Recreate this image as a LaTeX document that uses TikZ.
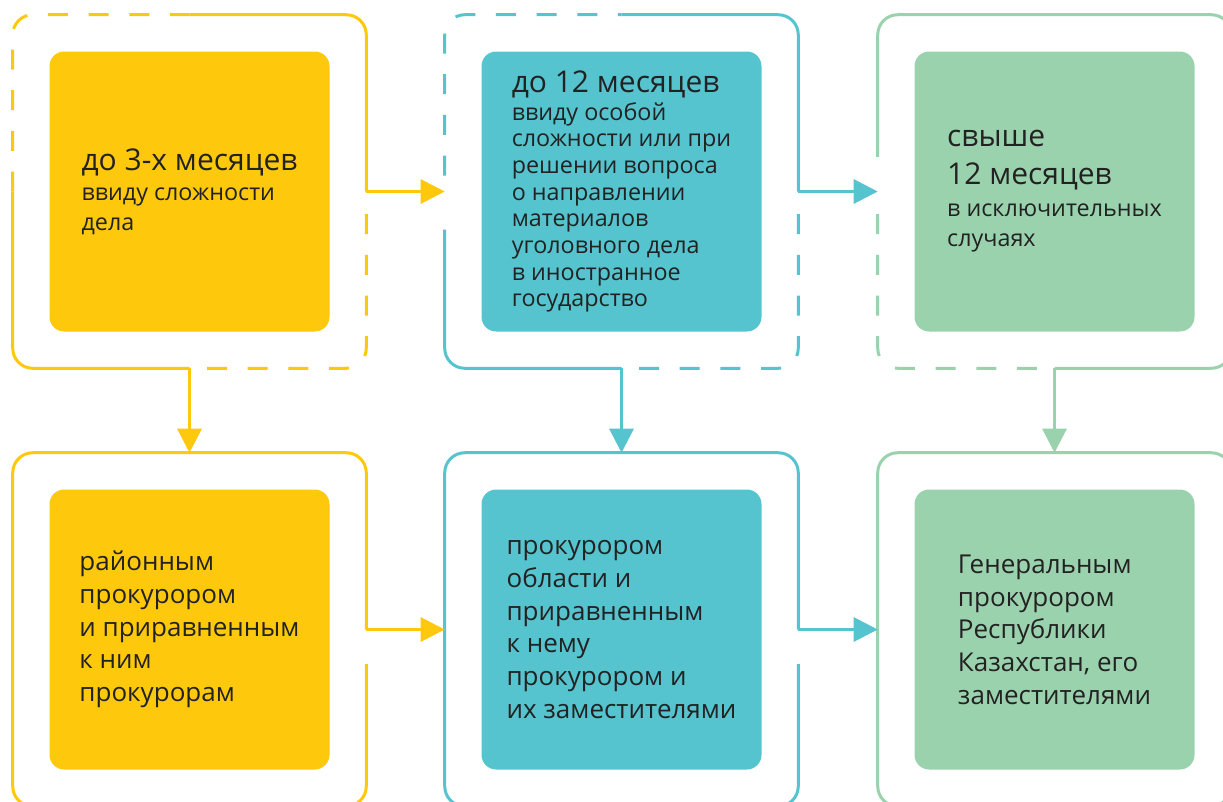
\documentclass[tikz,border=0pt]{standalone}
\usepackage{fontspec}
\setmainfont{Open Sans}
\usetikzlibrary{arrows.meta}
\definecolor{gelb}{HTML}{FEC90C}
\definecolor{blau}{HTML}{55C4CF}
\definecolor{gruen}{HTML}{9AD2AE}
\definecolor{schrift}{HTML}{222222}
\newcommand{\kopf}[1]{{\fontsize{22.5}{24}\selectfont #1}}
\tikzset{
  outerbox/.style={minimum width=264.75pt,minimum height=264.75pt,inner sep=0pt},
  innerbox/.style={fill=#1,rounded corners=11pt,minimum width=210pt,minimum height=210pt,
    align=left,text=schrift,inner sep=0pt,font=\fontsize{17.5}{20}\selectfont},
  lowbox/.style={innerbox=#1,font=\fontsize{19.5}{24.5}\selectfont},
  rim/.style={draw=#1,line width=2.25pt,rounded corners=15pt},
  rimdash/.style={rim=#1,dash pattern=on 15pt off 15.5pt},
  conn/.style={draw=#1,line width=2.25pt,-{Triangle[length=18pt,width=18pt]}}
}
\begin{document}
\begin{tikzpicture}[x=0.75pt,y=-0.75pt]
\useasboundingbox (0,0) rectangle (1223,801);
% outer frames
\node[outerbox] (fr1) at (189.5,191.5) {};
\node[outerbox] (fr2) at (621.5,191.5) {};
\node[outerbox] (fr3) at (1054.5,191.5) {};
\node[outerbox] (fr4) at (189.5,629.5) {};
\node[outerbox] (fr5) at (621.5,629.5) {};
\node[outerbox] (fr6) at (1054.5,629.5) {};

% top row, half solid half dashed
\draw[rim=gelb] (fr1.north) -| (fr1.east);
\draw[rim=gelb] (fr1.west) |- (fr1.south);
\draw[rimdash=gelb] (fr1.west) |- (fr1.north);
\draw[rimdash=gelb] ([yshift=-17pt]fr1.east) |- (fr1.south);

\draw[rim=blau] (fr2.north) -| (fr2.east);
\draw[rim=blau] ([yshift=-28.5pt]fr2.west) |- (fr2.south);
\draw[rimdash=blau] ([yshift=12pt]fr2.west) |- (fr2.north);
\draw[rimdash=blau] ([yshift=-17pt]fr2.east) |- (fr2.south);

\draw[rim=gruen] ([yshift=26pt]fr3.west) |- (fr3.north) -| (fr3.east) |- (fr3.south);
\draw[rimdash=gruen] ([yshift=-17pt]fr3.west) |- (fr3.south);

% bottom row
\draw[rim=gelb] (fr4.east) |- (fr4.north) -| (fr4.west) |- (fr4.south) -| ([yshift=-26pt]fr4.east);
\draw[rim=blau] (fr5.east) |- (fr5.north) -| (fr5.west) |- (fr5.south) -| ([yshift=-26pt]fr5.east);
\draw[rim=gruen] (fr6.north west) rectangle (fr6.south east);

% filled boxes
\node[innerbox=gelb,font=\fontsize{17.5}{22.5}\selectfont] (b1) at (fr1) {\kopf{до 3-х месяцев}\\ввиду сложности\\дела};
\node[innerbox=blau] (b2) at (fr2) {\kopf{до 12 месяцев}\\[1pt]ввиду особой\\сложности или при\\решении вопроса\\о направлении\\материалов\\уголовного дела\\в иностранное\\государство};
\node[innerbox=gruen] (b3) at (fr3) {\kopf{свыше}\\[8.5pt]\kopf{12 месяцев}\\[4pt]в исключительных\\[2.5pt]случаях};
\node[lowbox=gelb] (b4) at (fr4) {районным\\прокурором\\и приравненным\\к ним\\прокурорам};
\node[lowbox=blau] (b5) at (fr5) {прокурором\\области и\\приравненным\\к нему\\прокурором и\\их заместителями};
\node[lowbox=gruen] (b6) at (fr6) {Генеральным\\прокурором\\Республики\\Казахстан, его\\заместителями};

% arrows
\draw[conn=gelb] (fr1.east) -- (fr2.west);
\draw[conn=gelb] (fr1.south) -- (fr4.north);
\draw[conn=gelb] (fr4.east) -- (fr5.west);
\draw[conn=blau] (fr2.east) -- (fr3.west);
\draw[conn=blau] (fr2.south) -- (fr5.north);
\draw[conn=blau] (fr5.east) -- (fr6.west);
\draw[conn=gruen] (fr3.south) -- (fr6.north);
\end{tikzpicture}
\end{document}
